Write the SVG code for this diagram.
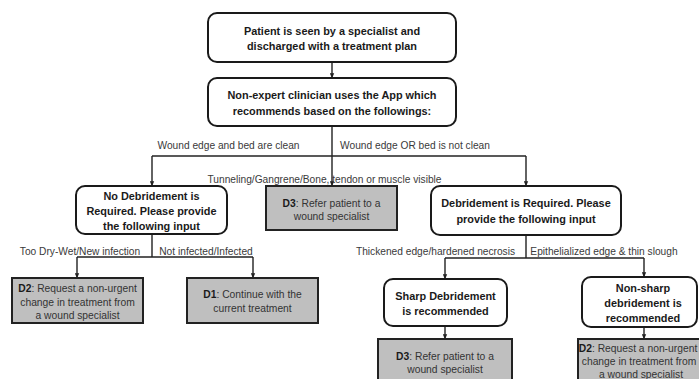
<svg xmlns="http://www.w3.org/2000/svg" width="699" height="379" viewBox="0 0 699 379">
<defs>
<marker id="ah" viewBox="0 0 8 8" refX="7.5" refY="4" markerWidth="5" markerHeight="5" orient="auto" markerUnits="userSpaceOnUse">
<path d="M0,0.5 L8,4 L0,7.5 z" fill="#222"/>
</marker>
<style>
.rbox{fill:#fff;stroke:#1a1a1a;stroke-width:2}
.gbox{fill:#bfbfbf;stroke:#222;stroke-width:2}
.bt{font-family:"Liberation Sans",Arial,sans-serif;font-weight:bold;font-size:10.9px;fill:#1a1a1a;text-anchor:middle}
.gt{font-family:"Liberation Sans",Arial,sans-serif;font-size:10.3px;fill:#333;text-anchor:middle}
.gt tspan.b{font-weight:bold;fill:#1a1a1a}
.lb{font-family:"Liberation Sans",Arial,sans-serif;font-size:10.2px;fill:#3a3a3a;text-anchor:middle}
.ln{fill:none;stroke:#222;stroke-width:1.4}
.ar{marker-end:url(#ah)}
</style>
</defs>
<rect width="699" height="379" fill="#fff"/>
<g id="connectors">
<path class="ln ar" d="M332,62 V78"/>
<path class="ln ar" d="M332,126 V186"/>
<path class="ln" d="M152,156 H526"/>
<path class="ln ar" d="M152,156 V186"/>
<path class="ln ar" d="M526,156 V186"/>
<path class="ln" d="M152,234 V257 M77,257 H253"/>
<path class="ln ar" d="M77,257 V278"/>
<path class="ln ar" d="M253,257 V278"/>
<path class="ln" d="M526,235 V258 M445,258 H644"/>
<path class="ln ar" d="M445,258 V279"/>
<path class="ln ar" d="M644,258 V277"/>
<path class="ln ar" d="M445,326 V339"/>
<path class="ln ar" d="M644,327 V339"/>
</g>
<g id="labels">
<text class="lb" x="228.5" y="149">Wound edge and bed are clean</text>
<text class="lb" x="415" y="149">Wound edge OR bed is not clean</text>
<text class="lb" x="324.5" y="183">Tunneling/Gangrene/Bone, tendon or muscle visible</text>
<text class="lb" x="80" y="255">Too Dry-Wet/New infection</text>
<text class="lb" x="206" y="255">Not infected/Infected</text>
<text class="lb" x="435.5" y="255">Thickened edge/hardened necrosis</text>
<text class="lb" x="604" y="255">Epithelialized edge &amp; thin slough</text>
</g>
<g id="n-patient">
<rect class="rbox" x="208" y="13" width="248" height="49" rx="9"/>
<text class="bt" x="332" y="35">Patient is seen by a specialist and</text>
<text class="bt" x="332" y="50">discharged with a treatment plan</text>
</g>
<g id="n-app">
<rect class="rbox" x="208" y="78" width="248" height="48" rx="9"/>
<text class="bt" x="332" y="99">Non-expert clinician uses the App which</text>
<text class="bt" x="332" y="115">recommends based on the followings:</text>
</g>
<g id="n-nodeb">
<rect class="rbox" x="76" y="186" width="151" height="48" rx="9"/>
<text class="bt" x="151.5" y="200">No Debridement is</text>
<text class="bt" x="151.5" y="215">Required. Please provide</text>
<text class="bt" x="151.5" y="230">the following input</text>
</g>
<g id="n-d3a">
<rect class="gbox" x="266" y="186" width="131" height="44"/>
<text class="gt" x="331.5" y="207"><tspan class="b">D3</tspan>: Refer patient to a</text>
<text class="gt" x="331.5" y="220">wound specialist</text>
</g>
<g id="n-deb">
<rect class="rbox" x="431" y="186" width="190" height="49" rx="9"/>
<text class="bt" x="526" y="207">Debridement is Required. Please</text>
<text class="bt" x="526" y="223">provide the following input</text>
</g>
<g id="n-d2a">
<rect class="gbox" x="12" y="278" width="131" height="45"/>
<text class="gt" x="77.5" y="292"><tspan class="b">D2</tspan>: Request a non-urgent</text>
<text class="gt" x="77.5" y="306">change in treatment from</text>
<text class="gt" x="77.5" y="319">a wound specialist</text>
</g>
<g id="n-d1">
<rect class="gbox" x="187" y="278" width="131" height="45"/>
<text class="gt" x="252.5" y="298"><tspan class="b">D1</tspan>: Continue with the</text>
<text class="gt" x="252.5" y="312">current treatment</text>
</g>
<g id="n-sharp">
<rect class="rbox" x="384" y="279" width="123" height="47" rx="9"/>
<text class="bt" x="445.5" y="300">Sharp Debridement</text>
<text class="bt" x="445.5" y="315">is recommended</text>
</g>
<g id="n-nonsharp">
<rect class="rbox" x="582" y="277" width="115" height="50" rx="9"/>
<text class="bt" x="643" y="292">Non-sharp</text>
<text class="bt" x="643" y="307">debridement is</text>
<text class="bt" x="643" y="322">recommended</text>
</g>
<g id="n-d3b">
<rect class="gbox" x="378" y="339" width="134" height="50"/>
<text class="gt" x="445" y="360"><tspan class="b">D3</tspan>: Refer patient to a</text>
<text class="gt" x="445" y="373">wound specialist</text>
</g>
<g id="n-d2b">
<rect class="gbox" x="578" y="339" width="132" height="50"/>
<text class="gt" x="638" y="352"><tspan class="b">D2</tspan>: Request a non-urgent</text>
<text class="gt" x="639" y="365">change in treatment from</text>
<text class="gt" x="641" y="378">a wound specialist</text>
</g>
</svg>
